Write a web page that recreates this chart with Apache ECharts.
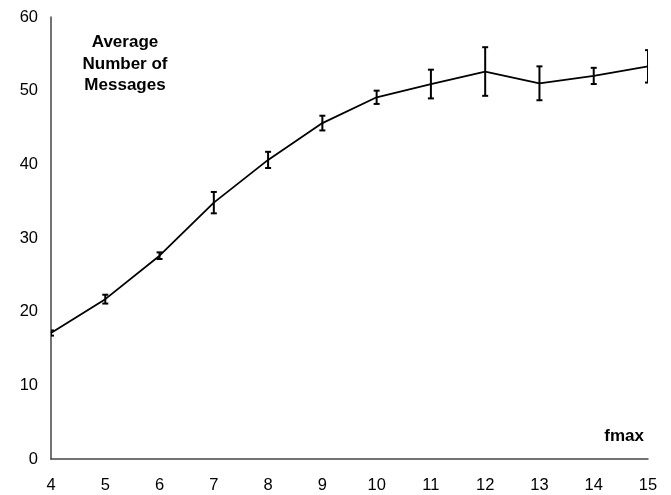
<!DOCTYPE html>
<html>
<head>
<meta charset="utf-8">
<script src="https://cdn.jsdelivr.net/npm/echarts@6/dist/echarts.min.js"></script>
<style>html,body{margin:0;padding:0;background:#fff;}#c{width:671px;height:495px;}</style>
</head>
<body>
<div id="c"></div>
<script>
const fmaxValues = [4, 5, 6, 7, 8, 9, 10, 11, 12, 13, 14, 15];
const avgMessages = [17.1, 21.7, 27.6, 34.8, 40.6, 45.6, 49.1, 50.9, 52.6, 51.0, 52.0, 53.3];
const errorSizes = [0.35, 0.6, 0.45, 1.45, 1.1, 1.0, 0.9, 1.95, 3.3, 2.3, 1.1, 2.2];
const yTicks = [0, 10, 20, 30, 40, 50, 60];

const font = 'Liberation Sans, Arial, Helvetica, sans-serif';
const chart = echarts.init(document.getElementById('c'), null, {renderer: 'canvas'});

const lineData = fmaxValues.map((x, i) => [x, avgMessages[i]]);
const errData = fmaxValues.map((x, i) => [x, avgMessages[i] - errorSizes[i], avgMessages[i] + errorSizes[i]]);

chart.setOption({
  animation: false,
  backgroundColor: '#fff',
  grid: {left: 51, right: 23, top: 17, bottom: 36, containLabel: false},
  xAxis: {
    type: 'value', min: 4, max: 15, interval: 1,
    axisLine: {show: true, onZero: false, lineStyle: {color: '#444', width: 1.5}},
    axisTick: {show: false},
    splitLine: {show: false},
    axisLabel: {color: '#000', fontFamily: font, fontSize: 16.5, margin: 18}
  },
  yAxis: {
    type: 'value', min: yTicks[0], max: yTicks[yTicks.length - 1], interval: 10,
    axisLine: {show: true, lineStyle: {color: '#444', width: 1.5}},
    axisTick: {show: false},
    splitLine: {show: false},
    axisLabel: {color: '#000', fontFamily: font, fontSize: 16.5, margin: 13}
  },
  graphic: [
    {type: 'text', left: 125 - 45, top: 32, style: {text: 'Average\nNumber of\nMessages', fill: '#000', font: 'bold 17px ' + font, textAlign: 'center', lineHeight: 21.5, width: 90}},
    {type: 'text', right: 27, top: 428, style: {text: 'fmax', fill: '#000', font: 'bold 17px ' + font}}
  ],
  series: [
    {
      type: 'line', data: lineData, symbol: 'none',
      lineStyle: {color: '#000', width: 1.8}
    },
    {
      type: 'custom', clip: true, data: errData,
      encode: {x: 0, y: [1, 2]},
      renderItem: function (params, api) {
        const x = api.value(0);
        const lo = api.coord([x, api.value(1)]);
        const hi = api.coord([x, api.value(2)]);
        const w = 3;
        const style = {stroke: '#000', lineWidth: 2};
        return {
          type: 'group',
          children: [
            {type: 'line', shape: {x1: lo[0], y1: lo[1], x2: hi[0], y2: hi[1]}, style: style},
            {type: 'line', shape: {x1: lo[0] - w, y1: lo[1], x2: lo[0] + w, y2: lo[1]}, style: style},
            {type: 'line', shape: {x1: hi[0] - w, y1: hi[1], x2: hi[0] + w, y2: hi[1]}, style: style}
          ]
        };
      }
    }
  ]
});
</script>
</body>
</html>
